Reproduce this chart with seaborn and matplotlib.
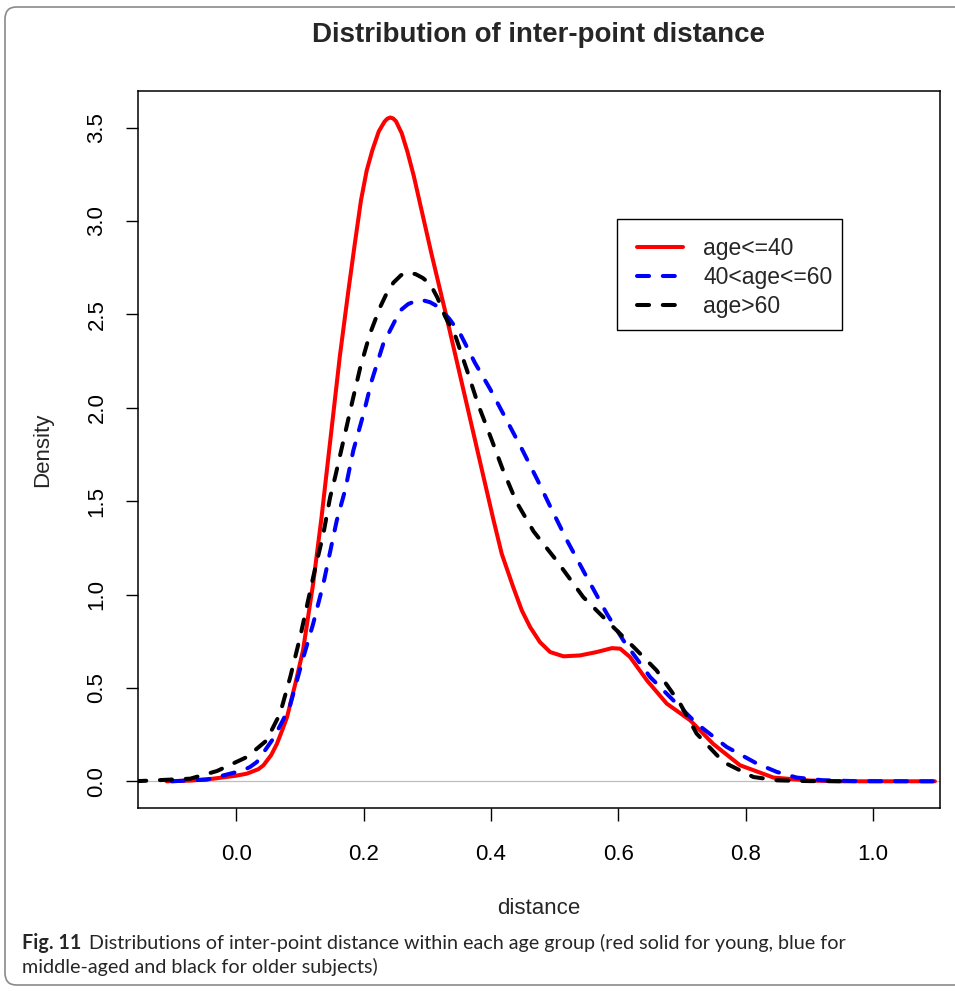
import numpy as np
import pandas as pd
import matplotlib
matplotlib.use("Agg")
import matplotlib.pyplot as plt
from matplotlib.patches import FancyBboxPatch, Rectangle
import seaborn as sns

# ---------------- data ----------------
red_x = [-0.109, -0.07, -0.036, 0.0, 0.017, 0.035, 0.043, 0.055, 0.064, 0.072, 0.080,
         0.093, 0.105, 0.121, 0.134, 0.145, 0.155, 0.163, 0.176, 0.186, 0.196, 0.205,
         0.214, 0.224, 0.233, 0.2375, 0.242, 0.2465, 0.251, 0.260, 0.269, 0.279, 0.289,
         0.307, 0.328, 0.345, 0.362, 0.385, 0.404, 0.417, 0.435, 0.4485, 0.4615, 0.477,
         0.493, 0.514, 0.540, 0.566, 0.590, 0.603, 0.6185, 0.645, 0.676, 0.713, 0.749,
         0.791, 0.8435, 0.90, 0.95, 1.097]
red_y = [0.0, 0.004, 0.014, 0.03, 0.041, 0.065, 0.086, 0.14, 0.20, 0.27, 0.344,
         0.523, 0.70, 1.06, 1.41, 1.74, 2.04, 2.28, 2.62, 2.87, 3.11, 3.27,
         3.38, 3.48, 3.532, 3.548, 3.554, 3.549, 3.534, 3.47, 3.37, 3.24, 3.09,
         2.82, 2.52, 2.27, 2.02, 1.68, 1.40, 1.218, 1.04, 0.915, 0.826, 0.745,
         0.692, 0.669, 0.674, 0.692, 0.713, 0.71, 0.665, 0.54, 0.416, 0.326, 0.20,
         0.086, 0.02, 0.004, 0.0, 0.0]

blue_x = [-0.101, -0.046, -0.030, 0.0115, 0.022, 0.0325, 0.0586, 0.074, 0.085, 0.1057,
          0.121, 0.137, 0.158, 0.171, 0.184, 0.200, 0.213, 0.231, 0.2575, 0.270,
          0.2836, 0.2915, 0.3046, 0.3176, 0.335, 0.352, 0.375, 0.3988, 0.4223, 0.4485,
          0.473, 0.4956, 0.520, 0.5505, 0.582, 0.608, 0.650, 0.6865, 0.723, 0.770,
          0.8175, 0.849, 0.88, 0.92, 0.97, 1.097]
blue_y = [0.0, 0.009, 0.023, 0.059, 0.077, 0.103, 0.23, 0.33, 0.41, 0.665,
          0.844, 1.058, 1.396, 1.557, 1.771, 1.967, 2.146, 2.342, 2.52, 2.555,
          2.574, 2.577, 2.565, 2.54, 2.475, 2.395, 2.24, 2.10, 1.949, 1.78,
          1.614, 1.454, 1.286, 1.093, 0.897, 0.754, 0.558, 0.433, 0.309, 0.184,
          0.095, 0.05, 0.02, 0.006, 0.001, 0.0]

black_x = [-0.16, -0.072, -0.030, 0.017, 0.048, 0.053, 0.069, 0.085, 0.1005, 0.121,
           0.137, 0.1476, 0.1554, 0.1685, 0.1816, 0.195, 0.210, 0.226, 0.236, 0.247,
           0.259, 0.2705, 0.282, 0.293, 0.3046, 0.316, 0.328, 0.345, 0.363, 0.380,
           0.400, 0.4187, 0.440, 0.467, 0.503, 0.545, 0.592, 0.624, 0.660, 0.697,
           0.723, 0.765, 0.812, 0.85, 0.90, 0.969]
black_y = [0.0, 0.014, 0.055, 0.13, 0.219, 0.255, 0.362, 0.558, 0.772, 1.093,
           1.325, 1.521, 1.628, 1.824, 2.021, 2.217, 2.395, 2.538, 2.61, 2.67,
           2.71, 2.725, 2.715, 2.695, 2.663, 2.59, 2.49, 2.377, 2.195, 2.017,
           1.839, 1.669, 1.496, 1.338, 1.182, 0.986, 0.826, 0.719, 0.594, 0.416,
           0.255, 0.103, 0.023, 0.005, 0.001, 0.0]

group_labels = ["age<=40", "40<age<=60", "age>60"]
group_colors = ["#FF0000", "#0000FF", "#000000"]
x_ticks = [0.0, 0.2, 0.4, 0.6, 0.8, 1.0]
y_ticks = [0.0, 0.5, 1.0, 1.5, 2.0, 2.5, 3.0, 3.5]

title = "Distribution of inter-point distance"
xlabel = "distance"
ylabel = "Density"
caption_bold = "Fig. 11"
caption_line1 = "Distributions of inter-point distance within each age group (red solid for young, blue for"
caption_line2 = "middle-aged and black for older subjects)"

# ---------------- figure ----------------
sns.set_style("white")
plt.rcParams["font.family"] = ["Liberation Sans", "DejaVu Sans"]

W, H = 955, 991
fig = plt.figure(figsize=(W / 100, H / 100), dpi=100)
ax = fig.add_axes([138 / W, 1 - 808 / H, (940 - 138) / W, (808 - 91) / H])

# outer rounded frame
frame = FancyBboxPatch((5 / W, 6 / H), (975 - 5) / W, (984 - 6) / H,
                       boxstyle="round,pad=0,rounding_size=0.012",
                       transform=fig.transFigure, fill=False,
                       edgecolor="#8a8a8a", linewidth=1.2, clip_on=False)
fig.patches.append(frame)

# zero line
ax.axhline(0, color="#BEBEBE", lw=0.9, zorder=1)

series = [(red_x, red_y), (blue_x, blue_y), (black_x, black_y)]
lw = 2.9
for i, ((xs, ys), lab, col) in enumerate(zip(series, group_labels, group_colors)):
    df = pd.DataFrame({"distance": xs, "Density": ys})
    sns.lineplot(data=df, x="distance", y="Density", color=col, lw=lw,
                 label=lab, sort=False, estimator=None, ax=ax, zorder=2 + i)
    line = ax.lines[-1]
    line.set_solid_capstyle("round")
    line.set_solid_joinstyle("round")
    line.set_dash_capstyle("round")
    line.set_dash_joinstyle("round")
    if i > 0:
        line.set_dashes((3.0, 3.4))

ax.set_xlim(-0.154, 1.105)
ax.set_ylim(-0.143, 3.696)
ax.set_xticks(x_ticks)
ax.set_xticklabels([f"{v:.1f}" for v in x_ticks])
ax.set_yticks(y_ticks)
ax.set_yticklabels([f"{v:.1f}" for v in y_ticks], rotation=90, va="center")

for s in ax.spines.values():
    s.set_color("black")
    s.set_linewidth(1.1)
ax.tick_params(axis="both", which="major", direction="out", length=9, width=1.0,
               color="black", labelsize=16, labelcolor="black", bottom=True, left=True)
ax.tick_params(axis="x", pad=17)
ax.tick_params(axis="y", pad=13)

ax.set_xlabel(xlabel, fontsize=16, labelpad=23.5)
ax.set_ylabel(ylabel, fontsize=16, labelpad=24)

fig.text(539 / W, 1 - 35 / H, title, ha="center", va="center",
         fontsize=19.9, fontweight="bold")

# legend frame drawn as a rectangle inside the axes, entries above it
ax.add_patch(Rectangle((617 / W, 1 - 330 / H), (842 - 617) / W, (330 - 219) / H,
                       transform=fig.transFigure, facecolor="white",
                       edgecolor="black", linewidth=1.0, zorder=8, clip_on=False))
leg = ax.legend(loc="upper left", bbox_to_anchor=(637 / W, 1 - 237 / H),
                bbox_transform=fig.transFigure, borderaxespad=0,
                frameon=False, fontsize=16.5,
                handlelength=2.0, handletextpad=0.9, labelspacing=0.27,
                borderpad=0.0)
for h in leg.get_lines():
    h.set_linewidth(lw)
leg.set_zorder(10)

# caption
cap_font = ["Lato", "DejaVu Sans"]
t_bold = fig.text(22 / W, 1 - 943 / H, caption_bold, ha="left", va="center",
                  fontsize=14.2, fontweight="bold", family=cap_font)
fig.canvas.draw()
bb = t_bold.get_window_extent(renderer=fig.canvas.get_renderer())
fig.text((bb.x1 + 8) / W, 1 - 943 / H, caption_line1, ha="left", va="center",
         fontsize=14.2, family=cap_font)
fig.text(22 / W, 1 - 967 / H, caption_line2, ha="left", va="center",
         fontsize=14.2, family=cap_font)

fig.savefig("out.png", dpi=100)
